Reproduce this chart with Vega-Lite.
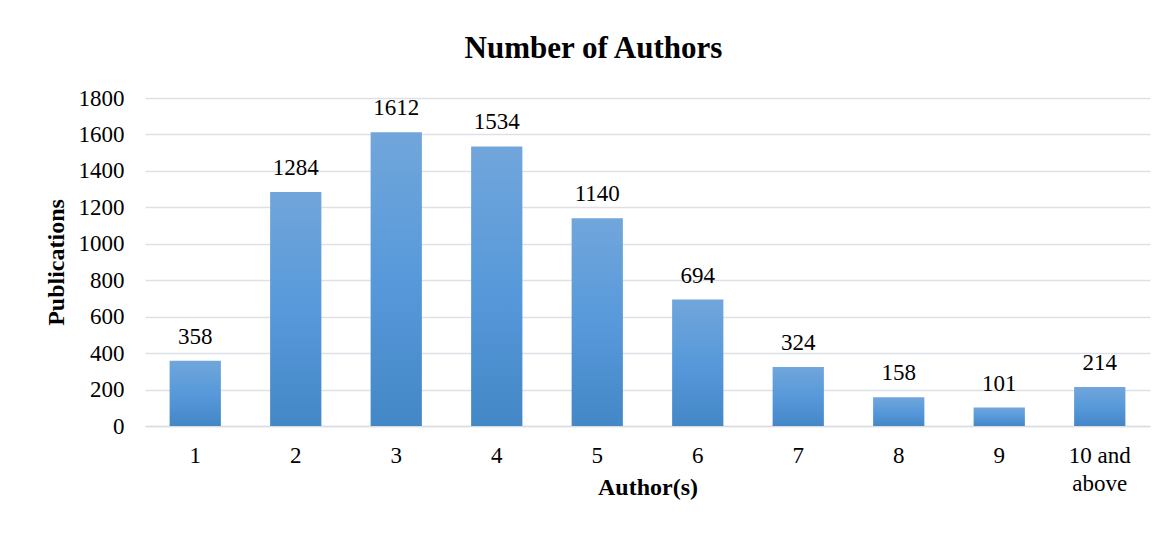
{
  "$schema": "https://vega.github.io/schema/vega-lite/v6.json",
  "autosize": {"type": "none"},
  "width": 1005,
  "height": 328,
  "padding": {"left": 145, "top": 98, "right": 22, "bottom": 131},
  "background": "white",
  "config": {
    "font": "Liberation Serif",
    "view": {"stroke": null}
  },
  "title": {
    "text": "Number of Authors",
    "font": "Liberation Serif",
    "fontSize": 31,
    "fontWeight": "bold",
    "color": "#000000",
    "anchor": "middle",
    "dx": -54,
    "offset": 22
  },
  "data": {
    "values": [
      {"authors": "1", "publications": 358},
      {"authors": "2", "publications": 1284},
      {"authors": "3", "publications": 1612},
      {"authors": "4", "publications": 1534},
      {"authors": "5", "publications": 1140},
      {"authors": "6", "publications": 694},
      {"authors": "7", "publications": 324},
      {"authors": "8", "publications": 158},
      {"authors": "9", "publications": 101},
      {"authors": "10 and above", "publications": 214}
    ]
  },
  "encoding": {
    "x": {
      "field": "authors",
      "type": "nominal",
      "sort": null,
      "scale": {"paddingInner": 0.49, "paddingOuter": 0.245},
      "axis": {
        "title": "Author(s)",
        "titleFont": "Liberation Serif",
        "titleFontSize": 24,
        "titleFontWeight": "bold",
        "titleColor": "#000000",
        "titleY": 68,
        "titleBaseline": "alphabetic",
        "labelAngle": 0,
        "labelFont": "Liberation Serif",
        "labelFontSize": 23,
        "labelColor": "#000000",
        "labelPadding": 18,
        "labelLineHeight": 28,
        "labelExpr": "datum.label == '10 and above' ? ['10 and', 'above'] : datum.label",
        "ticks": false,
        "domainColor": "#d9dde3",
        "domainWidth": 1.5
      }
    },
    "y": {
      "field": "publications",
      "type": "quantitative",
      "scale": {"domain": [0, 1800]},
      "axis": {
        "title": "Publications",
        "titleFont": "Liberation Serif",
        "titleFontSize": 24,
        "titleFontWeight": "bold",
        "titleColor": "#000000",
        "titleX": -82,
        "titleBaseline": "alphabetic",
        "values": [0, 200, 400, 600, 800, 1000, 1200, 1400, 1600, 1800],
        "format": "d",
        "labelFont": "Liberation Serif",
        "labelFontSize": 23,
        "labelColor": "#000000",
        "labelPadding": 21,
        "ticks": false,
        "domain": false,
        "gridColor": "#dde1e7",
        "gridWidth": 1.5
      }
    }
  },
  "layer": [
    {
      "mark": {
        "type": "bar",
        "color": {
          "gradient": "linear",
          "x1": 0, "y1": 0, "x2": 0, "y2": 1,
          "stops": [
            {"offset": 0, "color": "#71a6db"},
            {"offset": 0.5, "color": "#5799da"},
            {"offset": 1, "color": "#4487c7"}
          ]
        }
      }
    },
    {
      "mark": {
        "type": "text",
        "baseline": "alphabetic",
        "dy": -17,
        "font": "Liberation Serif",
        "fontSize": 23,
        "color": "#000000"
      },
      "encoding": {"text": {"field": "publications", "type": "quantitative", "format": "d"}}
    }
  ]
}
